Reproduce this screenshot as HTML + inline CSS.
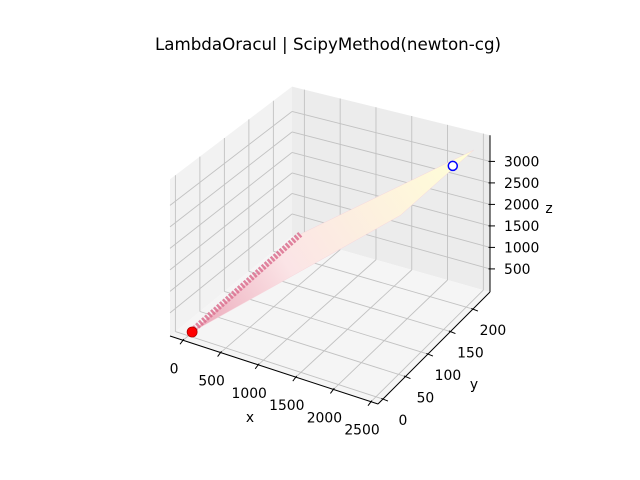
<!DOCTYPE html>
<html><head><meta charset="utf-8"><style>
html,body{margin:0;padding:0;background:#fff;}
svg{display:block;font-family:"DejaVu Sans","Liberation Sans",sans-serif;}
</style></head><body>
<svg id="chart" width="640" height="480" viewBox="0 0 640 480">
<defs>
<linearGradient id="surfGrad" x1="190" y1="330" x2="470" y2="150" gradientUnits="userSpaceOnUse">
<stop offset="0" stop-color="#eaa6b8"/>
<stop offset="0.35" stop-color="#fbe4e6"/>
<stop offset="1" stop-color="#ffffd6"/>
</linearGradient>
</defs>
<text x="328" y="50" text-anchor="middle" font-size="16.7" fill="#000">LambdaOracul | ScipyMethod(newton-cg)</text>
<g id="panes"></g>
<g id="grid"></g>
<g id="axes"></g>
<g id="series"></g>
</svg>
<script>
const xTicks=[0,500,1000,1500,2000,2500];
const yTicks=[0,50,100,150,200];
const zTicks=[500,1000,1500,2000,2500,3000];
const xRange=[-173,2593];
const yRange=[-11,238];
const zRange=[-37,3607];
const surfaceOutline=[[50,0,80],[200,200,560],[2447,225,3338],[2221,100,3005]];
const ridgeLine=[[50,0,80],[200,200,560]];
const startPoint=[50,0,80];
const endPoint=[2314,200,3170];

const NS="http://www.w3.org/2000/svg";
const [x0,x1]=xRange,[y0,y1]=yRange,[z0,z1]=zRange;
const A=[170,336],B=[378,404],C=[490,292],D=[292,236];
function P(x,y,z){
  const u=(x-x0)/(x1-x0),t=(y-y0)/(y1-y0);
  const px=A[0]+(B[0]-A[0])*u+(D[0]-A[0])*t+(A[0]-B[0]+C[0]-D[0])*u*t;
  const py=A[1]+(B[1]-A[1])*u+(D[1]-A[1])*t+(A[1]-B[1]+C[1]-D[1])*u*t;
  const s=0.043-0.002*(1-u)*t;
  return [px,py-(z-z0)*s];
}
function mk(tag,attrs,parent){const e=document.createElementNS(NS,tag);for(const k in attrs)e.setAttribute(k,attrs[k]);parent.appendChild(e);return e;}
function poly(pts){return pts.map(p=>P(p[0],p[1],p[2]).join(',')).join(' ');}
const panes=document.getElementById('panes'),grid=document.getElementById('grid'),axes=document.getElementById('axes'),series=document.getElementById('series');

let e;
e=mk('polygon',{points:poly([[x0,y0,z0],[x0,y1,z0],[x0,y1,z1],[x0,y0,z1]]),fill:'#f2f2f2'},panes);

e=mk('polygon',{points:poly([[x0,y1,z0],[x1,y1,z0],[x1,y1,z1],[x0,y1,z1]]),fill:'#ececec'},panes);

e=mk('polygon',{points:poly([[x0,y0,z0],[x1,y0,z0],[x1,y1,z0],[x0,y1,z0]]),fill:'#f5f5f5'},panes);


function gl(a,b){const p=P(...a),q=P(...b);const l=mk('line',{x1:p[0],y1:p[1],x2:q[0],y2:q[1],stroke:'#c2c2c2','stroke-width':0.9},grid);
}
xTicks.forEach(x=>{gl([x,y0,z0],[x,y1,z0]);gl([x,y1,z0],[x,y1,z1]);});
yTicks.forEach(y=>{gl([x0,y,z0],[x1,y,z0]);gl([x0,y,z0],[x0,y,z1]);});
zTicks.forEach(z=>{gl([x0,y0,z],[x0,y1,z]);gl([x0,y1,z],[x1,y1,z]);});

function al(a,b,name){const p=P(...a),q=P(...b);const l=mk('line',{x1:p[0],y1:p[1],x2:q[0],y2:q[1],stroke:'#000','stroke-width':1},axes);
}
al([x0,y0,z0],[x1,y0,z0],'x-axis-line');
al([x1,y0,z0],[x1,y1,z0],'y-axis-line');
al([x1,y1,z0],[x1,y1,z1],'z-axis-line');
function txt(s,x,y,anchor,name){const t=mk('text',{x:x,y:y,'text-anchor':anchor,'font-size':13.9,fill:'#000'},axes);t.textContent=s;
}
function tk(p,dx,dy){const l=mk('line',{x1:p[0]-dx*0.3,y1:p[1]-dy*0.3,x2:p[0]+dx,y2:p[1]+dy,stroke:'#000','stroke-width':1},axes);
}
xTicks.forEach(x=>{const p=P(x,y0,z0);tk(p,-3,4);txt(String(x),p[0]-9,p[1]+33,'middle','x-tick-label');});
yTicks.forEach(y=>{const p=P(x1,y,z0);tk(p,5,2);txt(String(y),p[0]+20,p[1]+26,'middle','y-tick-label');});
zTicks.forEach(z=>{const p=P(x1,y1,z);tk(p,5,0);txt(String(z),p[0]+14,p[1]+5,'start','z-tick-label');});
txt('x',250,422,'middle','x-axis-title');
txt('y',474,389,'middle','y-axis-title');
txt('z',549,213,'middle','z-axis-title');

e=mk('polygon',{points:poly(surfaceOutline),fill:'url(#surfGrad)',stroke:'#f6d6dc','stroke-width':0.5},series);

const r0=P(...ridgeLine[0]),r1=P(...ridgeLine[1]);
e=mk('line',{x1:r0[0]+2,y1:r0[1]-3,x2:r1[0],y2:r1[1],stroke:'#dc7090','stroke-width':6,'stroke-dasharray':'2.5 1.5',opacity:0.85},series);

const sp=P(...startPoint);
e=mk('circle',{cx:sp[0],cy:sp[1],r:5,fill:'#ff0000',stroke:'#b00000','stroke-width':0.8},series);

const ep=P(...endPoint);
e=mk('circle',{cx:ep[0],cy:ep[1],r:4.5,fill:'#ffffff',stroke:'#0000ff','stroke-width':1.5},series);

</script>
</body></html>
